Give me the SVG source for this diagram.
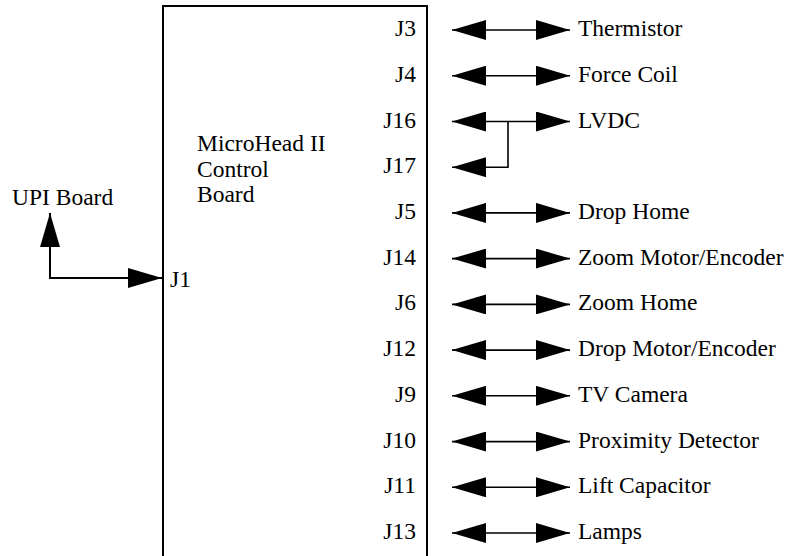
<svg xmlns="http://www.w3.org/2000/svg" width="793" height="556" viewBox="0 0 793 556">
  <style>
    .t { font-family: "Liberation Serif", "Times New Roman", serif; font-size: 23.5px; fill: #000; }
    .j { text-anchor: end; }
    .wire { fill: none; stroke: #000; stroke-width: 1.6; }
    .bus { fill: none; stroke: #000; stroke-width: 2; }
    .box { fill: none; stroke: #000; stroke-width: 2; }
  </style>
  <defs>
    <marker id="head" viewBox="0 0 34 20" markerUnits="userSpaceOnUse" markerWidth="34" markerHeight="20" refX="34" refY="10" orient="auto-start-reverse">
      <path d="M0,0 L34,10 L0,20 z" fill="#000"/>
    </marker>
  </defs>
  <rect width="793" height="556" fill="#fff"/>

  <!-- control board outline (runs off the bottom edge) -->
  <g id="control-board">
    <path class="box" d="M163,560 V6 H427 V560"/>
    <text class="t" x="197" y="151">MicroHead II</text>
    <text class="t" x="197" y="177">Control</text>
    <text class="t" x="197" y="202">Board</text>
    <text class="t" x="170" y="287">J1</text>
    <text class="t j" x="416" y="36">J3</text>
    <text class="t j" x="416" y="81.7">J4</text>
    <text class="t j" x="416" y="127.5">J16</text>
    <text class="t j" x="416" y="173.2">J17</text>
    <text class="t j" x="416" y="218.9">J5</text>
    <text class="t j" x="416" y="264.6">J14</text>
    <text class="t j" x="416" y="310.4">J6</text>
    <text class="t j" x="416" y="356.1">J12</text>
    <text class="t j" x="416" y="401.8">J9</text>
    <text class="t j" x="416" y="447.6">J10</text>
    <text class="t j" x="416" y="493.3">J11</text>
    <text class="t j" x="416" y="539">J13</text>
  </g>

  <g id="upi-board">
    <text class="t" x="12" y="205">UPI Board</text>
  </g>

  <!-- peripheral labels -->
  <g id="thermistor"><text class="t" x="578" y="36">Thermistor</text></g>
  <g id="force-coil"><text class="t" x="578" y="81.7">Force Coil</text></g>
  <g id="lvdc"><text class="t" x="578" y="127.5">LVDC</text></g>
  <g id="drop-home"><text class="t" x="578" y="218.9">Drop Home</text></g>
  <g id="zoom-motor"><text class="t" x="578" y="264.6">Zoom Motor/Encoder</text></g>
  <g id="zoom-home"><text class="t" x="578" y="310.4">Zoom Home</text></g>
  <g id="drop-motor"><text class="t" x="578" y="356.1">Drop Motor/Encoder</text></g>
  <g id="tv-camera"><text class="t" x="578" y="401.8">TV Camera</text></g>
  <g id="proximity"><text class="t" x="578" y="447.6">Proximity Detector</text></g>
  <g id="lift-capacitor"><text class="t" x="578" y="493.3">Lift Capacitor</text></g>
  <g id="lamps"><text class="t" x="578" y="539">Lamps</text></g>

  <g id="connectors">
    <path class="bus" d="M162,278 H50 V213" marker-start="url(#head)" marker-end="url(#head)"/>
    <path class="wire" d="M452,30 H570" marker-start="url(#head)" marker-end="url(#head)"/>
    <path class="wire" d="M452,75.7 H570" marker-start="url(#head)" marker-end="url(#head)"/>
    <path class="wire" d="M452,121.5 H570" marker-start="url(#head)" marker-end="url(#head)"/>
    <path class="wire" d="M452,167.2 H508 V121.5" marker-start="url(#head)"/>
    <path class="wire" d="M452,212.9 H570" marker-start="url(#head)" marker-end="url(#head)"/>
    <path class="wire" d="M452,258.6 H570" marker-start="url(#head)" marker-end="url(#head)"/>
    <path class="wire" d="M452,304.4 H570" marker-start="url(#head)" marker-end="url(#head)"/>
    <path class="wire" d="M452,350.1 H570" marker-start="url(#head)" marker-end="url(#head)"/>
    <path class="wire" d="M452,395.8 H570" marker-start="url(#head)" marker-end="url(#head)"/>
    <path class="wire" d="M452,441.6 H570" marker-start="url(#head)" marker-end="url(#head)"/>
    <path class="wire" d="M452,487.3 H570" marker-start="url(#head)" marker-end="url(#head)"/>
    <path class="wire" d="M452,533 H570" marker-start="url(#head)" marker-end="url(#head)"/>
  </g>
</svg>
